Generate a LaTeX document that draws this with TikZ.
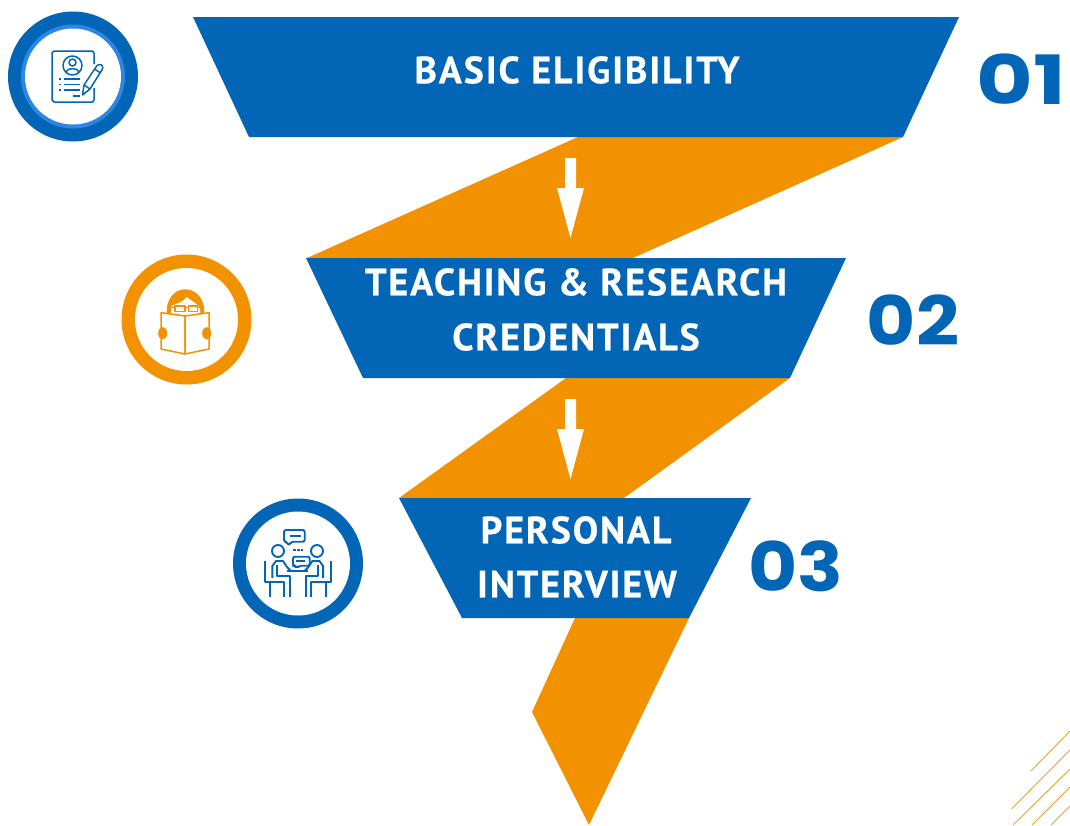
\documentclass[tikz,border=0pt]{standalone}
\usepackage{fontspec}
\setmainfont{PT Sans}
\newfontfamily\numfont{Poppins}
\definecolor{fblue}{HTML}{0265B5}
\definecolor{forange}{HTML}{F39200}
\definecolor{lblue}{HTML}{2B87E3}
\begin{document}
\begin{tikzpicture}[x=1pt,y=-1pt,line join=round,
  blueband/.style={fill=fblue,draw=none},
  orangeband/.style={fill=forange,draw=none},
  bandtext/.style={text=white,font=\fontsize{38}{55}\selectfont\bfseries,align=center,inner sep=0pt},
  numtext/.style={text=fblue,font=\fontsize{68}{70}\numfont\bfseries,inner sep=0pt},
  wharrow/.style={fill=white,draw=none},
  iconblue/.style={draw=fblue,line width=1.5pt,fill=none},
  iconpeople/.style={draw=fblue,line width=1.9pt,fill=none},
  iconorange/.style={draw=forange,line width=1.5pt,fill=none},
  hatch/.style={draw=forange!85!white,line width=0.9pt}]
\useasboundingbox (0,0) rectangle (1070,825);
\fill[white] (0,0) rectangle (1070,825);
% orange bands
\fill[orangeband] (578,137)--(903,137)--(633,258)--(307,258)--cycle;
\fill[orangeband] (566,378)--(790,378)--(624,498)--(399,498)--cycle;
\fill[orangeband] (575,618)--(689,618)--(589,825)--(532,712)--cycle;
% blue bands
\fill[blueband] (193,17)--(959,17)--(903,137)--(249,137)--cycle;
\fill[blueband] (306,258)--(846,258)--(790,378)--(363,378)--cycle;
\fill[blueband] (399,498)--(751,498)--(689,618)--(462,618)--cycle;
% arrows
\foreach \dy in {0,241}{
  \fill[wharrow] (565,158+\dy)--(576,158+\dy)--(576,188+\dy)--(584,188+\dy)--(570.5,238+\dy)--(557,188+\dy)--(565,188+\dy)--cycle;
}
% band texts
\node[bandtext] (t1) at (577,70) {\addfontfeature{LetterSpace=5,FakeBold=0.5}BASIC ELIGIBILITY};
\node[bandtext] (t2a) at (576,282) {\addfontfeature{LetterSpace=5,FakeBold=0.5}TEACHING \& RESEARCH};
\node[bandtext] (t2b) at (576,337) {\addfontfeature{LetterSpace=5,FakeBold=0.5}CREDENTIALS};
\node[bandtext] (t3a) at (576,530) {\addfontfeature{LetterSpace=5,FakeBold=0.5}PERSONAL};
\node[bandtext] (t3b) at (577,584) {\addfontfeature{LetterSpace=5,FakeBold=0.5}INTERVIEW};
% numbers
\node[numtext,xscale=1.28] (n1) at (1021,79) {01};
\node[numtext,xscale=1.11] (n2) at (913,320) {02};
\node[numtext,xscale=1.11] (n3) at (796,566) {03};
% circle 1
\fill[fblue] (73,76.5) circle (65);
\fill[lblue] (73,76.5) circle (52);
\fill[white] (73,76.5) circle (48);
\draw[iconblue] (94,64)--(94,53)--(92.500,51)--(54,51)--(52,53)--(52,100)--(54,102)--(92.500,102)--(94,100)--(94,88);
\draw[iconblue] (72.500,65.500) circle (9.500);
\draw[iconblue] (72.500,62.500) circle (3.500);
\draw[iconblue] (66,72)..controls (67,67.500) and (78,67.500) .. (79,72);
\draw[iconblue] (64,79)--(80,79) (64,84.500)--(80,84.500) (64,90)--(80,90) (72.500,96)--(80,96);
\draw[iconblue] (59,79)--(61,79) (59,84.500)--(61,84.500) (59,90)--(61,90);
\draw[iconblue] (82.500,95)--(84,85)--(97,65.500)..controls (100,63) and (104,65.500) .. (102.500,69)--(90,89)--cycle;
\draw[iconblue] (84,85)--(90,89) (94.500,69)--(100.500,73);
% circle 2
\fill[forange] (186.500,319.500) circle (65);
\fill[white] (186.500,319.500) circle (51.500);
\fill[forange] (166.700,313)..controls (166,300) and (174,289.300) .. (185,289.300)..controls (197,289.300) and (205,300) .. (204.300,313)--cycle;
\fill[white] (171,313)--(171,306)..controls (176,304) and (183,302) .. (187,297)..controls (191,301) and (197,303) .. (200,308)--(200,313)--cycle;
\draw[iconorange,line width=1.1pt] (175,306) rectangle (185,311.500);
\draw[iconorange,line width=1.1pt] (188.300,306) rectangle (197.700,311.500);
\draw[iconorange,line width=1.1pt] (170,307)--(175,307.500) (185,307.500)--(188.300,307.500) (197.700,307.500)--(202,307);
\draw[iconorange,fill=white] (161,312.700)--(185,316)--(185,354)--(161,349)--cycle;
\draw[iconorange,fill=white] (209,312.700)--(185,316)--(185,354)--(209,349)--cycle;
\fill[forange] (162.700,333.300) ellipse (4.500 and 6.300);
\fill[forange] (206.700,333.300) ellipse (4.500 and 6.300);
% circle 3
\fill[fblue] (298,563.500) circle (65);
\fill[white] (298,563.500) circle (52);
\draw[iconpeople,rounded corners=2pt] (284,530)--(284,541.700)--(287,541.700)--(288.700,545.700)--(291,541.700)--(304.700,541.700)--(304.700,530)--cycle;
\draw[iconpeople] (289.700,535.700)--(300.700,535.700);
\draw[iconpeople] (278,551) circle (6);
\draw[iconpeople] (317,551) circle (6);
\draw[iconpeople,dash pattern=on 2.500pt off 1.500pt] (293,550)--(303,550);
\draw[iconpeople,rounded corners=2pt] (293,556.700)--(309.700,556.700)--(309.700,565.700)--(299,565.700)--(297,568)--(295,565.700)--(293,565.700)--cycle;
\draw[iconpeople] (296.300,561)--(305.300,561);
% people
\foreach \s/\o in {1/0,-1/595.400}{
\begin{scope}[shift={(\o,0)},xscale=\s]
\draw[iconpeople] (264.700,561)--(264.700,582)--(284,582)--(284,597) (269.700,582)--(269.700,597);
\draw[iconpeople] (272.300,578)--(272.300,566)--(276,561)--(283,561)--(287,567)--(291,571);
\draw[iconpeople] (277.300,565)--(277.300,576)--(289.700,576)--(289.700,597);
\end{scope}}
\draw[iconpeople] (287,571)--(308,571);
% hatch
\draw[hatch] (1031,771)--(1070,731);
\draw[hatch] (1011.500,809)--(1070,750);
\draw[hatch] (1013,825)--(1070,769);
\draw[hatch] (1032,825)--(1070,787);
\draw[hatch] (1051,825)--(1070,806);
\end{tikzpicture}
\end{document}
